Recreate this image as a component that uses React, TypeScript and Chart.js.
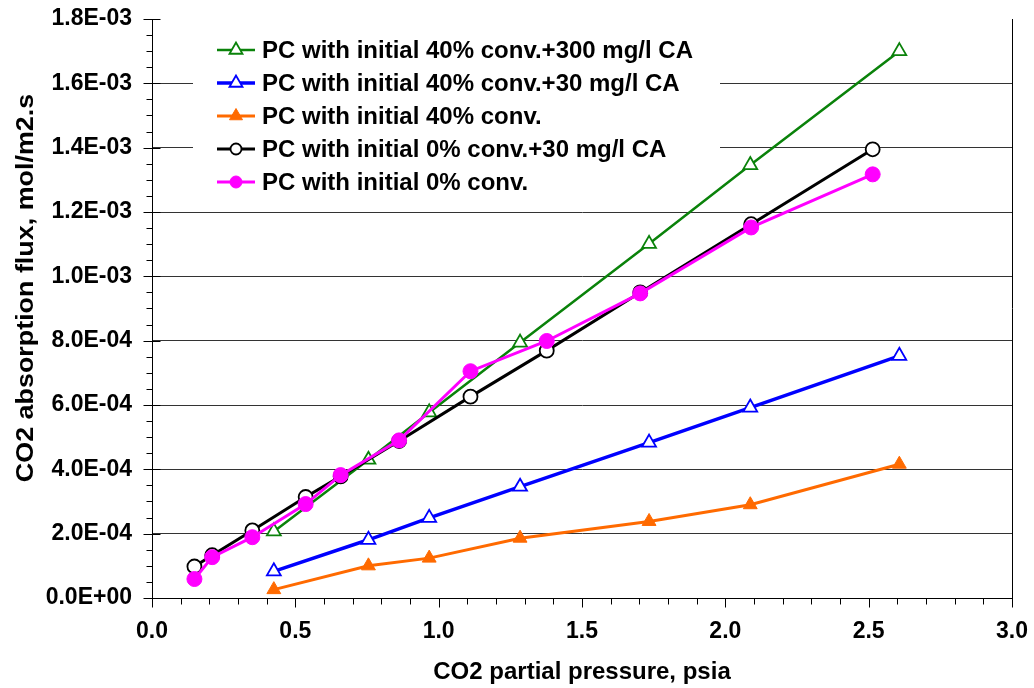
import React, { useEffect, useRef } from 'react';
import { Chart, registerables } from 'chart.js';

Chart.register(...registerables);

// ---------- data ----------
const seriesNames = [
  'PC with initial 40% conv.+300 mg/l CA',
  'PC with initial 40% conv.+30 mg/l CA',
  'PC with initial 40% conv.',
  'PC with initial 0% conv.+30 mg/l CA',
  'PC with initial 0% conv.',
];

// CO2 partial pressure (psia)
const pressure40 = [0.425, 0.755, 0.967, 1.284, 1.734, 2.087, 2.607];
const pressure0 = [0.148, 0.21, 0.35, 0.536, 0.658, 0.862, 1.111, 1.377, 1.703, 2.09, 2.514];

// CO2 absorption flux (mol/m2.s)
const flux40ca300 = [2.07e-4, 4.3e-4, 5.77e-4, 7.94e-4, 11.01e-4, 13.46e-4, 17.0e-4];
const flux40ca30 = [0.83e-4, 1.81e-4, 2.49e-4, 3.46e-4, 4.83e-4, 5.92e-4, 7.53e-4];
const flux40 = [0.26e-4, 1.0e-4, 1.24e-4, 1.86e-4, 2.38e-4, 2.9e-4, 4.16e-4];
const flux0ca30 = [0.98e-4, 1.33e-4, 2.1e-4, 3.14e-4, 3.78e-4, 4.88e-4, 6.26e-4, 7.69e-4, 9.5e-4, 11.62e-4, 13.95e-4];
const flux0 = [0.59e-4, 1.27e-4, 1.89e-4, 2.92e-4, 3.82e-4, 4.9e-4, 7.05e-4, 7.99e-4, 9.47e-4, 11.52e-4, 13.17e-4];

const xMin = 0;
const xMax = 3.0;
const xStep = 0.5;
const xMinorStep = 0.1;
const yMin = 0;
const yMax = 1.8e-3;
const yStep = 2e-4;
const yMinorStep = 0.5e-4;

const xTitle = 'CO2 partial pressure, psia';
const yTitle = 'CO2 absorption flux, mol/m2.s';

// ---------- styling ----------
const FONT = '"Liberation Sans", Arial, Helvetica, sans-serif';

type Style = {
  color: string;
  fill: string;
  shape: 'triangle' | 'circle';
  radius: number;
  legendRadius: number;
  lineWidth: number;
  markerBorder: number;
};

const styles: Style[] = [
  { color: '#0a820a', fill: '#ffffff', shape: 'triangle', radius: 8, legendRadius: 7.5, lineWidth: 2.5, markerBorder: 1.8 },
  { color: '#0000ff', fill: '#ffffff', shape: 'triangle', radius: 8, legendRadius: 7.5, lineWidth: 3.5, markerBorder: 1.8 },
  { color: '#ff6a00', fill: '#ff6a00', shape: 'triangle', radius: 8, legendRadius: 7.5, lineWidth: 3, markerBorder: 1 },
  { color: '#000000', fill: '#ffffff', shape: 'circle', radius: 7, legendRadius: 5.5, lineWidth: 3, markerBorder: 1.8 },
  { color: '#ff00ff', fill: '#ff00ff', shape: 'circle', radius: 7.5, legendRadius: 6, lineWidth: 3, markerBorder: 1 },
];

function pairs(xs: number[], ys: number[]) {
  return xs.map((x, i) => ({ x, y: ys[i] }));
}

function fmtExp(v: number): string {
  const [m, e] = v.toExponential(1).split('e');
  const n = parseInt(e, 10);
  const sign = n < 0 ? '-' : '+';
  const abs = Math.abs(n);
  return `${m}E${sign}${abs < 10 ? '0' + abs : abs}`;
}

function drawMarker(ctx: CanvasRenderingContext2D, s: Style, x: number, y: number, r: number) {
  ctx.save();
  ctx.beginPath();
  if (s.shape === 'triangle') {
    const h = r * Math.sin(Math.PI / 3);
    ctx.moveTo(x, y - r);
    ctx.lineTo(x - h, y + r / 2);
    ctx.lineTo(x + h, y + r / 2);
    ctx.closePath();
  } else {
    ctx.arc(x, y, r, 0, Math.PI * 2);
  }
  ctx.fillStyle = s.fill;
  ctx.fill();
  ctx.lineWidth = s.markerBorder;
  ctx.strokeStyle = s.color;
  ctx.stroke();
  ctx.restore();
}

const legendPlugin = {
  id: 'customLegend',
  beforeDatasetsDraw(chart: any) {
    const ctx: CanvasRenderingContext2D = chart.ctx;
    const boxLeft = 193;
    const boxTop = 32;
    const boxRight = 720;
    const boxBottom = 198;
    ctx.save();
    ctx.fillStyle = '#ffffff';
    ctx.fillRect(boxLeft, boxTop, boxRight - boxLeft, boxBottom - boxTop);
    const rowTop = 50;
    const rowGap = 33;
    seriesNames.forEach((name, i) => {
      const s = styles[i];
      const y = rowTop + i * rowGap;
      ctx.beginPath();
      ctx.moveTo(217, y);
      ctx.lineTo(255, y);
      ctx.strokeStyle = s.color;
      ctx.lineWidth = s.lineWidth;
      ctx.stroke();
      drawMarker(ctx, s, 236, y, s.legendRadius);
      ctx.fillStyle = '#000';
      ctx.font = `bold 24px ${FONT}`;
      ctx.textBaseline = 'middle';
      ctx.textAlign = 'left';
      ctx.fillText(name, 262, y + 1);
    });
    ctx.restore();
  },
};

const tickPlugin = {
  id: 'axisTicks',
  beforeDatasetsDraw(chart: any) {
    const ctx: CanvasRenderingContext2D = chart.ctx;
    const xs = chart.scales.x;
    const ys = chart.scales.y;
    const area = chart.chartArea;
    ctx.save();
    ctx.strokeStyle = '#000';
    ctx.lineWidth = 1;
    const nY = Math.round((yMax - yMin) / yMinorStep);
    const majorEveryY = Math.round(yStep / yMinorStep);
    const ax = Math.round(area.left) + 0.5;
    for (let i = 0; i <= nY; i++) {
      const py = Math.round(ys.getPixelForValue(yMin + i * yMinorStep)) + 0.5;
      const major = i % majorEveryY === 0;
      ctx.beginPath();
      ctx.moveTo(ax - (major ? 9 : 6), py);
      ctx.lineTo(ax + (major ? 8 : 0), py);
      ctx.stroke();
    }
    const nX = Math.round((xMax - xMin) / xMinorStep);
    const majorEveryX = Math.round(xStep / xMinorStep);
    const ay = Math.round(area.bottom) + 0.5;
    for (let i = 0; i <= nX; i++) {
      const px = Math.round(xs.getPixelForValue(xMin + i * xMinorStep)) + 0.5;
      const major = i % majorEveryX === 0;
      ctx.beginPath();
      ctx.moveTo(px, ay);
      ctx.lineTo(px, ay + (major ? 9 : 6));
      ctx.stroke();
    }
    ctx.restore();
  },
};

const yTitlePlugin = {
  id: 'yTitle',
  afterDraw(chart: any) {
    const ctx: CanvasRenderingContext2D = chart.ctx;
    ctx.save();
    ctx.translate(26, 288);
    ctx.rotate(-Math.PI / 2);
    ctx.scale(1.12, 1);
    ctx.font = `bold 24px ${FONT}`;
    ctx.fillStyle = '#000';
    ctx.textAlign = 'center';
    ctx.textBaseline = 'middle';
    ctx.fillText(yTitle, 0, 0);
    ctx.restore();
  },
};

export default function App() {
  const canvasRef = useRef<HTMLCanvasElement | null>(null);

  useEffect(() => {
    const canvas = canvasRef.current;
    if (!canvas) return;
    const allY = [flux40ca300, flux40ca30, flux40, flux0ca30, flux0];
    const allX = [pressure40, pressure40, pressure40, pressure0, pressure0];
    const datasets = seriesNames.map((name, i) => {
      const s = styles[i];
      return {
        label: name,
        data: pairs(allX[i], allY[i]),
        borderColor: s.color,
        backgroundColor: s.fill,
        borderWidth: s.lineWidth,
        pointStyle: s.shape,
        pointRadius: s.radius,
        pointHoverRadius: s.radius,
        pointBorderWidth: s.markerBorder,
        pointBorderColor: s.color,
        pointBackgroundColor: s.fill,
        showLine: true,
        fill: false,
        tension: 0,
        order: 5 - i,
      };
    });

    const chart = new Chart(canvas, {
      type: 'scatter',
      data: { datasets },
      plugins: [legendPlugin, tickPlugin, yTitlePlugin],
      options: {
        animation: false,
        responsive: false,
        maintainAspectRatio: false,
        layout: { padding: { top: 19, right: 22, bottom: 0, left: 0 } },
        plugins: {
          legend: { display: false },
          tooltip: { enabled: false },
        },
        scales: {
          x: {
            type: 'linear',
            min: xMin,
            max: xMax,
            afterFit: (scale: any) => {
              scale.height = 90;
              scale.paddingLeft = 0;
              scale.paddingRight = 0;
            },
            ticks: {
              stepSize: xStep,
              padding: 20,
              color: '#000',
              font: { family: FONT, size: 23, weight: 'bold' },
              callback: (v: any) => Number(v).toFixed(1),
            },
            grid: {
              drawTicks: false,
              lineWidth: 1,
              color: (c: any) =>
                c.tick && Math.abs(c.tick.value - xMax) < 1e-9 ? '#000' : 'rgba(0,0,0,0)',
            },
            border: { display: true, color: '#000', width: 1 },
            title: {
              display: true,
              text: xTitle,
              color: '#000',
              font: { family: FONT, size: 24, weight: 'bold' },
              padding: { top: 0, bottom: 1 },
            },
          },
          y: {
            type: 'linear',
            min: yMin,
            max: yMax,
            afterFit: (scale: any) => {
              scale.width = 152;
              scale.paddingTop = 0;
              scale.paddingBottom = 0;
            },
            ticks: {
              stepSize: yStep,
              padding: 20,
              color: '#000',
              font: { family: FONT, size: 23, weight: 'bold' },
              callback: (v: any) => fmtExp(Number(v)),
            },
            grid: {
              drawTicks: false,
              lineWidth: 1,
              color: (c: any) =>
                c.tick && Math.abs(c.tick.value - yMax) < 1e-9 ? 'rgba(0,0,0,0)' : '#333',
            },
            border: { display: true, color: '#000', width: 1 },
            title: { display: false },
          },
        },
      } as any,
    });
    return () => chart.destroy();
  }, []);

  return (
    <div style={{ position: 'fixed', left: 0, top: 0, width: 1034, height: 688, background: '#fff' }}>
      <canvas ref={canvasRef} width={1034} height={688} style={{ width: 1034, height: 688, display: 'block' }} />
    </div>
  );
}
